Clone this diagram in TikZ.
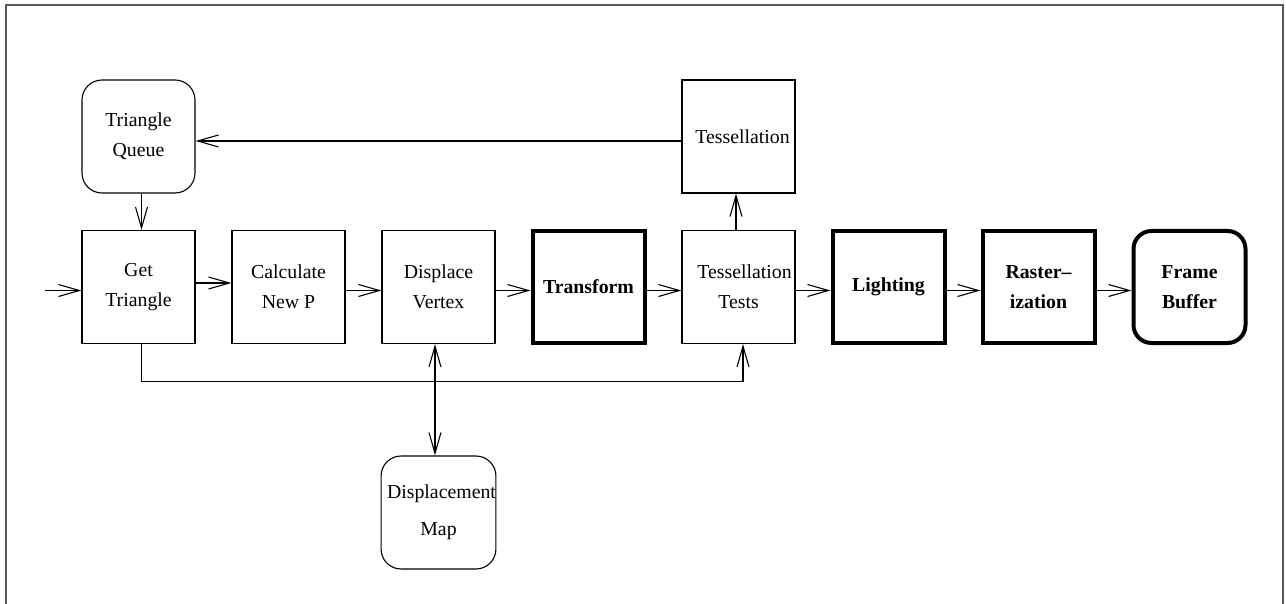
\documentclass[tikz,border=0pt]{standalone}
\usepackage{fontspec}
\setmainfont{Liberation Serif}
\usetikzlibrary{arrows.meta}
\begin{document}
\begin{tikzpicture}[x=1pt,y=-1pt,
  >={Straight Barb[length=21pt,width=12pt]},
  box/.style={draw, minimum width=113pt, minimum height=113pt, inner sep=0pt,
    line width=1.1pt, align=center, font=\fontsize{19.8}{30}\selectfont},
  rbox/.style={box, rounded corners=20pt},
  tbox/.style={box, line width=4pt, minimum width=112pt, minimum height=112pt,
    font=\fontsize{19.8}{30}\selectfont\bfseries},
  trbox/.style={tbox, rounded corners=18pt},
  conn/.style={line width=1.1pt},
  arr/.style={conn, ->},
  frame/.style={draw=black!65, line width=2pt}
]
\useasboundingbox (0,0) rectangle (1286,604);
\draw[frame] (6,615) -- (6,5) -- (1283,5) -- (1283,615);

% top row
\node[rbox] (tq) at (138.5,136.5) {Triangle\\Queue};
\node[box] (tes) at (738.5,136.5) {\hspace*{8pt}Tessellation};

% main row
\node[box] (gt) at (138.5,287) {Get\\Triangle};
\node[box] (cnp) at (288.5,287) {Calculate\\New P};
\node[box] (dv) at (438.5,287) {Displace\\Vertex};
\node[tbox] (tr) at (588.5,287) {Transform};
\node[box] (tt) at (738.5,287) {\hspace*{12pt}Tessellation\\Tests};
\node[tbox] (li) at (888.5,287) {Lighting};
\node[tbox] (ra) at (1038.5,287) {Raster--\\ization};
\node[trbox] (fb) at (1189.5,287) {Frame\\Buffer};

% bottom
\node[rbox, font=\fontsize{19.8}{37}\selectfont] (dm) at (438.5,512.5) {\hspace*{6pt}Displacement\\Map};

\coordinate (in) at (45,290.5);

% connectors
\draw[arr] (in) -- (in -| gt.west);
\draw[arr] ([yshift=4pt]gt.east) -- ([yshift=4pt]cnp.west);
\draw[arr] ([yshift=-3.5pt]cnp.east) -- ([yshift=-3.5pt]dv.west);
\draw[arr] ([yshift=-3.5pt]dv.east) -- ([yshift=-3.5pt]tr.west);
\draw[arr] ([yshift=-3.5pt]tr.east) -- ([yshift=-3.5pt]tt.west);
\draw[arr] ([yshift=-3.5pt]tt.east) -- ([yshift=-3.5pt]li.west);
\draw[arr] ([yshift=-3.5pt]li.east) -- ([yshift=-3.5pt]ra.west);
\draw[arr] ([yshift=-3.5pt]ra.east) -- ([yshift=-3.5pt]fb.west);

\draw[arr] ([xshift=3pt]tq.south) -- ([xshift=3pt]gt.north);
\draw[arr] ([yshift=-4.5pt]tes.west) -- ([yshift=-4.5pt]tq.east);
\draw[arr] ([xshift=-2.5pt]tt.north) -- ([xshift=-2.5pt]tes.south);
\draw[arr] ([xshift=3pt]gt.south) -- ++(0,37.5) -| ([xshift=4.5pt]tt.south);
\draw[conn, <->] ([xshift=-3.5pt]dv.south) -- ([xshift=-3.5pt]dm.north);
\end{tikzpicture}
\end{document}
